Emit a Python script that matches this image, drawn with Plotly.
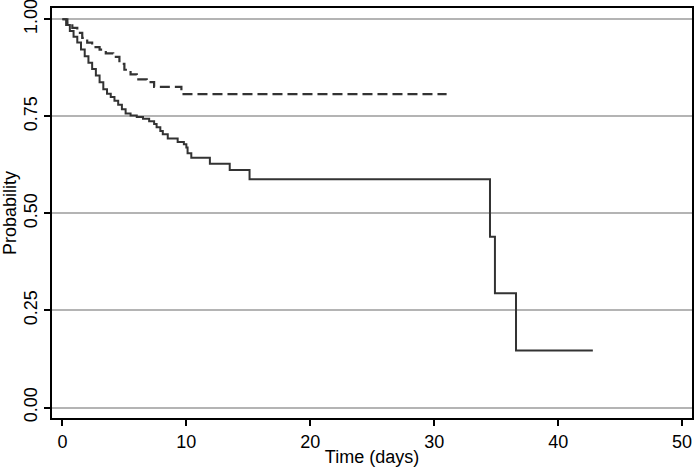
import plotly.graph_objects as go

# Solid curve (Kaplan-Meier, step function)
solid_t = [0, 0.3, 0.6, 0.9, 1.2, 1.5, 1.8, 2.1, 2.4, 2.7, 3.0, 3.3, 3.6, 3.9, 4.2, 4.5, 4.8, 5.1,
           5.5, 6.0, 6.5, 7.0, 7.4, 7.6, 7.9, 8.1, 8.5, 9.3, 9.8, 10.0, 10.1, 10.4, 11.9, 13.5, 15.1,
           34.5, 34.9, 36.6, 42.8]
solid_s = [1.0, 0.985, 0.970, 0.955, 0.940, 0.922, 0.905, 0.888, 0.872, 0.855, 0.838, 0.820, 0.808,
           0.800, 0.790, 0.780, 0.768, 0.757, 0.752, 0.748, 0.744, 0.737, 0.730, 0.722, 0.712, 0.704,
           0.693, 0.684, 0.678, 0.670, 0.655, 0.643, 0.628, 0.612, 0.588, 0.440, 0.294, 0.147, 0.147]

# Dashed curve
dash_t = [0, 0.4, 0.8, 1.2, 1.6, 2.0, 2.4, 3.0, 3.5, 4.1, 4.6, 5.0, 5.5, 6.0, 6.8, 7.4, 9.6, 31.0]
dash_s = [1.0, 0.990, 0.978, 0.965, 0.952, 0.940, 0.928, 0.922, 0.912, 0.903, 0.885, 0.870, 0.858,
          0.845, 0.838, 0.826, 0.807, 0.807]

x_ticks = [0, 10, 20, 30, 40, 50]
y_ticks = [0, 0.25, 0.5, 0.75, 1.0]
y_labels = ["0.00", "0.25", "0.50", "0.75", "1.00"]

FONT = "Liberation Sans Narrow, Arial Narrow, Liberation Sans, Arial, sans-serif"
LINE = "#333333"

fig = go.Figure()
fig.add_trace(go.Scatter(x=solid_t, y=solid_s, mode="lines", line_shape="hv",
                         line=dict(color=LINE, width=2), showlegend=False))
fig.add_trace(go.Scatter(x=dash_t, y=dash_s, mode="lines", line_shape="hv",
                         line=dict(color=LINE, width=2.2, dash="10px,5px"), showlegend=False))

fig.update_layout(
    width=697, height=471,
    margin=dict(l=52, r=5, t=8, b=53),
    paper_bgcolor="white", plot_bgcolor="white",
    font=dict(family=FONT, size=18, color="black"),
)
fig.update_xaxes(
    range=[-0.84, 50.8], tickvals=x_ticks, ticktext=[str(v) for v in x_ticks],
    showgrid=False, zeroline=False, showline=True, mirror=True, automargin=False,
    ticklabeloverflow="allow",
    linecolor="black", linewidth=2, ticks="outside", ticklen=6, tickwidth=1.5, tickcolor="black",
    title=dict(text="Time (days)", standoff=0, font=dict(size=18)),
)
fig.update_yaxes(
    range=[-0.027, 1.029], tickvals=y_ticks, ticktext=y_labels, tickangle=-90,
    showgrid=True, gridcolor="#b4b4b4", gridwidth=1.5, zeroline=False, showline=True, mirror=True,
    automargin=False, ticklabeloverflow="allow",
    linecolor="black", linewidth=2, ticks="outside", ticklen=6, tickwidth=1.5, tickcolor="black",
)
fig.add_annotation(text="Probability", xref="paper", yref="paper", x=0, y=0.5,
                   xshift=-42, xanchor="center", yanchor="middle", textangle=-90,
                   showarrow=False, font=dict(family=FONT, size=18, color="black"))

# Remove the default 8px page margin so the figure sits at the window's top-left corner.
fig.write_html("out.html", config={"displayModeBar": False},
               post_script="document.body.style.margin='0px';")
